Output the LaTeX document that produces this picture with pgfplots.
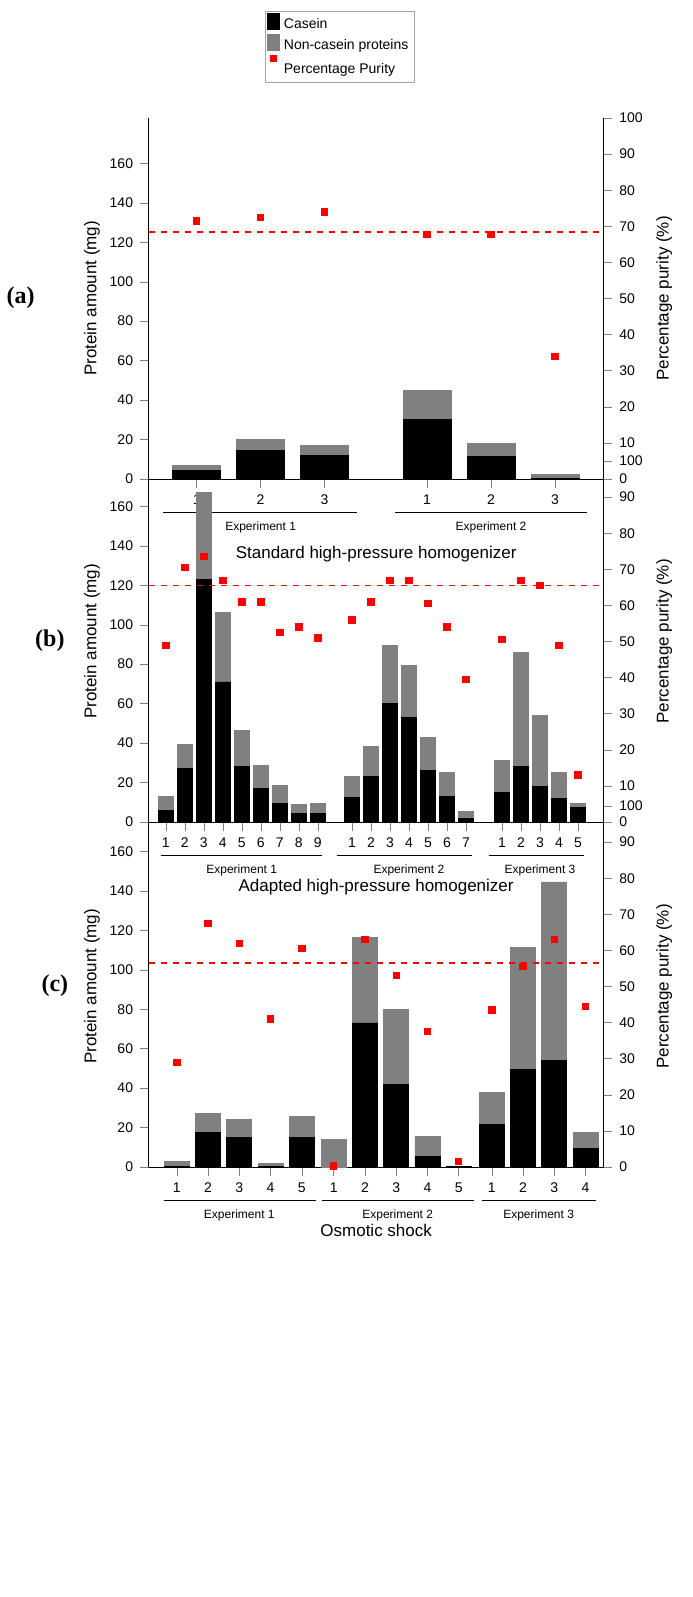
\documentclass[border=0pt]{standalone}
\usepackage{pgfplots}
\pgfplotsset{compat=1.18}
\usepackage{fontspec}
\setmainfont{Liberation Sans}
\newfontfamily\serifb{Liberation Serif}
\definecolor{ncgray}{RGB}{128,128,128}
\tikzset{exp/.style={font=\fontsize{6}{7}\selectfont, anchor=north}}
\pgfplotsset{
 leftax/.style={scale only axis, width=227.5pt, height=180.5pt, ymin=0, ymax=183,
   ytick={0,20,...,160}, axis y line*=left, axis x line*=bottom, ybar stacked,
   xtick=data, tick align=outside, clip=false,
   /pgf/number format/assume math mode=true,
   tick label style={font=\fontsize{7}{8}\selectfont},
   label style={font=\fontsize{8.5}{10}\selectfont},
   ylabel={Protein amount (mg)}, ylabel style={yshift=-2pt}},
 rightax/.style={scale only axis, width=227.5pt, height=180.5pt, ymin=0, ymax=100,
   ytick={0,10,...,100}, axis y line*=right, axis x line=none, tick align=outside,
   /pgf/number format/assume math mode=true,
   tick label style={font=\fontsize{7}{8}\selectfont},
   label style={font=\fontsize{8.5}{10}\selectfont},
   ylabel={Percentage purity (\%)}, clip=false},
}
\begin{document}
\begin{tikzpicture}
\path (0,0) rectangle (344.5pt,798.5pt);
% ---------- panel a
\begin{axis}[leftax, at={(72.5pt,559pt)}, xmin=0.25, xmax=7.36, bar width=0.75,
  xticklabels={1,2,3,1,2,3}, xlabel={Standard high-pressure homogenizer},
  xlabel style={yshift=-14pt},
  legend style={at={(0.42,1.197)}, anchor=center, font=\fontsize{7}{8}\selectfont, draw=gray!70, inner sep=1pt, row sep=-1pt},
  legend cell align=left]
\addplot[fill=black, draw=black] coordinates {(1,4.5)(2,14.5)(3,12)(4.6,30)(5.6,11.5)(6.6,0.5)};
\addplot[fill=ncgray, draw=ncgray] coordinates {(1,2.5)(2,5.5)(3,5)(4.6,15)(5.6,6.5)(6.6,1.7)};
\addlegendentry{Casein}\addlegendentry{Non-casein proteins}
\addlegendimage{only marks, mark=square*, mark size=1.6pt, color=red}
\addlegendentry{Percentage Purity}
\draw (axis cs:0.48,-16.8) -- (axis cs:3.5,-16.8);
\draw (axis cs:4.1,-16.8) -- (axis cs:7.1,-16.8);
\node[exp] at (axis cs:2,-18) {Experiment 1};
\node[exp] at (axis cs:5.6,-18) {Experiment 2};
\node[font=\serifb\bfseries\fontsize{12}{14}\selectfont] at (axis cs:-1.75,92) {(a)};
\end{axis}
\begin{axis}[rightax, at={(72.5pt,559pt)}, xmin=0.25, xmax=7.36]
\addplot[only marks, mark=square*, mark size=1.6pt, color=red] coordinates {(1,71.5)(2,72.5)(3,74)(4.6,67.8)(5.6,67.8)(6.6,34)};
\draw[red, dashed, thick] (axis cs:0.25,68.5) -- (axis cs:7.36,68.5);
\end{axis}
% ---------- panel b
\begin{axis}[leftax, at={(72.5pt,387.5pt)}, xmin=0.1, xmax=24.05, bar width=0.8,
  xticklabels={1,2,3,4,5,6,7,8,9,1,2,3,4,5,6,7,1,2,3,4,5}, xlabel={Adapted high-pressure homogenizer},
  xlabel style={yshift=-9pt}]
\addplot[fill=black, draw=black] coordinates {(1,6)(2,27)(3,123)(4,71)(5,28)(6,17)(7,9.5)(8,4.5)(9,4.5)
 (10.8,12.5)(11.8,23)(12.8,60)(13.8,53)(14.8,26)(15.8,13)(16.8,2)
 (18.7,15)(19.7,28)(20.7,18)(21.7,12)(22.7,7.5)};
\addplot[fill=ncgray, draw=ncgray] coordinates {(1,7)(2,12.5)(3,44)(4,35)(5,18.5)(6,11.5)(7,9)(8,4.5)(9,5)
 (10.8,10.5)(11.8,15.5)(12.8,29.5)(13.8,26.5)(14.8,17)(15.8,12)(16.8,3.5)
 (18.7,16)(19.7,58)(20.7,36)(21.7,13)(22.7,2)};
\draw (axis cs:0.74,-16.8) -- (axis cs:9.2,-16.8);
\draw (axis cs:10.0,-16.8) -- (axis cs:17.1,-16.8);
\draw (axis cs:18.0,-16.8) -- (axis cs:23.0,-16.8);
\node[exp] at (axis cs:5,-18) {Experiment 1};
\node[exp] at (axis cs:13.8,-18) {Experiment 2};
\node[exp] at (axis cs:20.7,-18) {Experiment 3};
\node[font=\serifb\bfseries\fontsize{12}{14}\selectfont] at (axis cs:-5.1,92) {(b)};
\end{axis}
\begin{axis}[rightax, at={(72.5pt,387.5pt)}, xmin=0.1, xmax=24.05]
\addplot[only marks, mark=square*, mark size=1.6pt, color=red] coordinates {(1,49)(2,70.5)(3,73.5)(4,67)(5,61)(6,61)(7,52.5)(8,54)(9,51)
 (10.8,56)(11.8,61)(12.8,67)(13.8,67)(14.8,60.5)(15.8,54)(16.8,39.5)
 (18.7,50.5)(19.7,67)(20.7,65.5)(21.7,49)(22.7,13)};
\draw[red, dashed, thick] (axis cs:0.1,65.5) -- (axis cs:24.05,65.5);
\end{axis}
% ---------- panel c
\begin{axis}[leftax, at={(72.5pt,215pt)}, xmin=0.1, xmax=14.66, bar width=0.8,
  xticklabels={1,2,3,4,5,1,2,3,4,5,1,2,3,4}, xlabel={Osmotic shock},
  xlabel style={yshift=-9pt}]
\addplot[fill=black, draw=black] coordinates {(1,0.5)(2,17.5)(3,15)(4,0.5)(5,15)
 (6.02,0)(7.02,73)(8.02,42)(9.02,5.5)(10.02,0.3)
 (11.08,21.5)(12.08,49.5)(13.08,54)(14.08,9.5)};
\addplot[fill=ncgray, draw=ncgray] coordinates {(1,2.5)(2,9.5)(3,9)(4,1.5)(5,10.5)
 (6.02,14)(7.02,43.5)(8.02,38)(9.02,10)(10.02,0.2)
 (11.08,16.5)(12.08,62)(13.08,90.5)(14.08,8)};
\draw (axis cs:0.58,-16.8) -- (axis cs:5.45,-16.8);
\draw (axis cs:5.64,-16.8) -- (axis cs:10.5,-16.8);
\draw (axis cs:10.76,-16.8) -- (axis cs:14.4,-16.8);
\node[exp] at (axis cs:3,-18) {Experiment 1};
\node[exp] at (axis cs:8.07,-18) {Experiment 2};
\node[exp] at (axis cs:12.58,-18) {Experiment 3};
\node[font=\serifb\bfseries\fontsize{12}{14}\selectfont] at (axis cs:-2.9,92) {(c)};
\end{axis}
\begin{axis}[rightax, at={(72.5pt,215pt)}, xmin=0.1, xmax=14.66]
\addplot[only marks, mark=square*, mark size=1.6pt, color=red] coordinates {(1,29)(2,67.5)(3,62)(4,41)(5,60.5)
 (6.02,0.3)(7.02,63)(8.02,53)(9.02,37.5)(10.02,1.5)
 (11.08,43.5)(12.08,55.5)(13.08,63)(14.08,44.5)};
\draw[red, dashed, thick] (axis cs:0.1,56.5) -- (axis cs:14.66,56.5);
\end{axis}
\end{tikzpicture}
\end{document}
